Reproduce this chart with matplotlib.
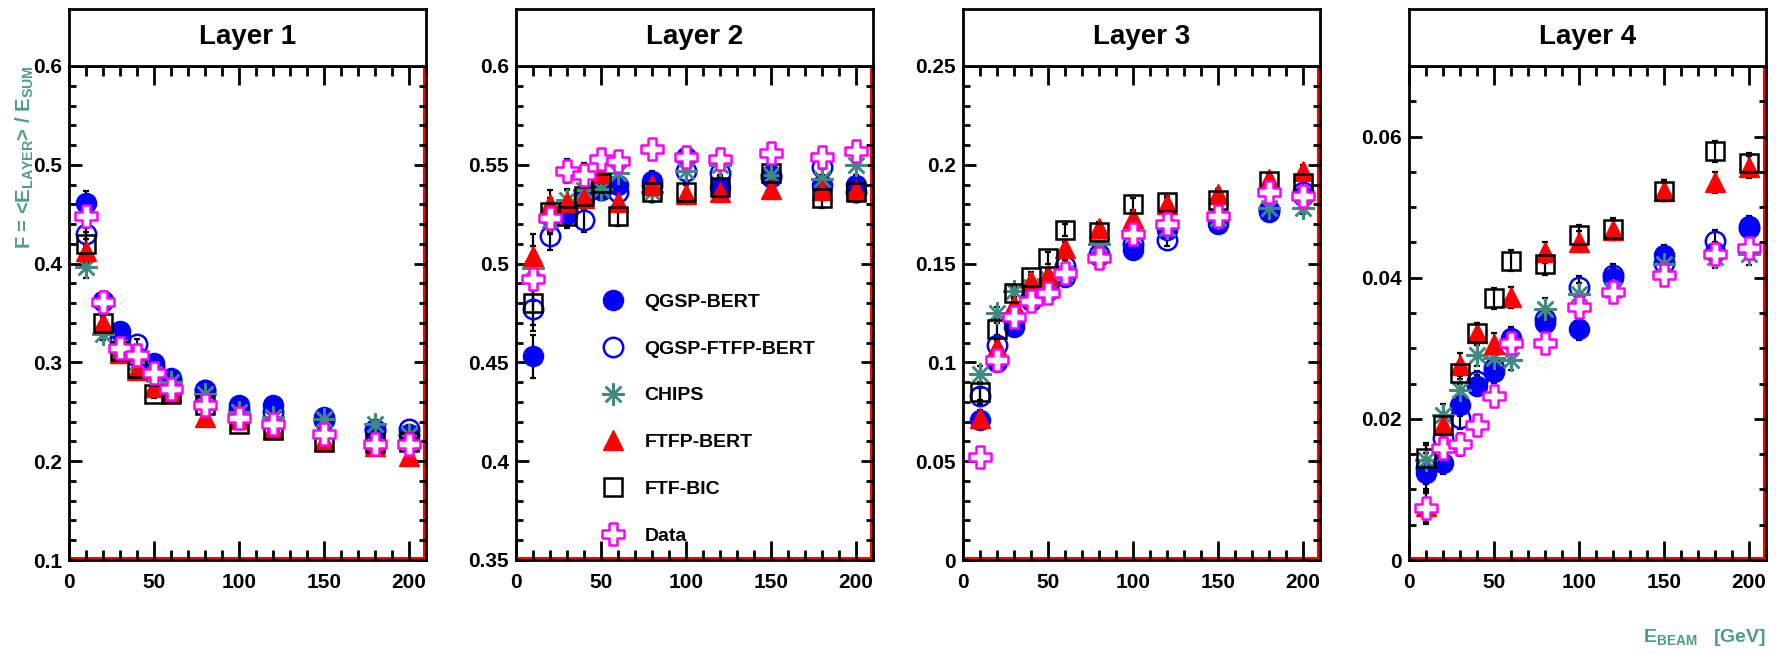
import matplotlib
matplotlib.use('Agg')
import matplotlib.pyplot as plt
from matplotlib.ticker import MultipleLocator

plt.rcParams['font.family'] = ['Liberation Sans', 'DejaVu Sans']
plt.rcParams['font.weight'] = 'bold'
plt.rcParams['mathtext.fontset'] = 'custom'
plt.rcParams['mathtext.rm'] = 'Liberation Sans:bold'
plt.rcParams['mathtext.default'] = 'rm'

# beam energies [GeV]
energy = [10, 20, 30, 40, 50, 60, 80, 100, 120, 150, 180, 200]

models = ['QGSP-BERT', 'QGSP-FTFP-BERT', 'CHIPS', 'FTFP-BERT', 'FTF-BIC', 'Data']

# layer 1
l1_qgsp_bert = [0.461, 0.362, 0.332, 0.305, 0.299, 0.284, 0.272, 0.257, 0.257, 0.245, 0.233, 0.228]
l1_qgsp_ftfp = [0.430, 0.362, 0.325, 0.319, 0.295, 0.282, 0.272, 0.253, 0.250, 0.242, 0.232, 0.233]
l1_chips     = [0.397, 0.329, 0.315, 0.300, 0.288, 0.280, 0.268, 0.250, 0.245, 0.243, 0.238, 0.227]
l1_ftfp_bert = [0.413, 0.340, 0.310, 0.292, 0.275, 0.270, 0.245, 0.243, 0.233, 0.220, 0.215, 0.205]
l1_ftf_bic   = [0.420, 0.340, 0.312, 0.294, 0.268, 0.268, 0.257, 0.238, 0.232, 0.219, 0.218, 0.219]
l1_data      = [0.448, 0.361, 0.315, 0.307, 0.289, 0.273, 0.257, 0.244, 0.238, 0.228, 0.217, 0.217]
l1_err       = [0.012, 0.006, 0.005, 0.005, 0.004, 0.004, 0.004, 0.004, 0.004, 0.004, 0.004, 0.004]

# layer 2
l2_qgsp_bert = [0.453, 0.524, 0.525, 0.533, 0.538, 0.540, 0.542, 0.554, 0.539, 0.545, 0.540, 0.540]
l2_qgsp_ftfp = [0.477, 0.514, 0.527, 0.522, 0.537, 0.536, 0.540, 0.547, 0.546, 0.544, 0.549, 0.536]
l2_chips     = [0.498, 0.522, 0.532, 0.537, 0.538, 0.546, 0.536, 0.547, 0.550, 0.545, 0.543, 0.550]
l2_ftfp_bert = [0.504, 0.530, 0.531, 0.533, 0.546, 0.531, 0.540, 0.535, 0.536, 0.538, 0.537, 0.537]
l2_ftf_bic   = [0.480, 0.526, 0.524, 0.534, 0.541, 0.524, 0.536, 0.536, 0.539, 0.546, 0.533, 0.536]
l2_data      = [0.492, 0.523, 0.547, 0.545, 0.553, 0.552, 0.558, 0.554, 0.553, 0.556, 0.554, 0.557]
l2_err       = [0.011, 0.007, 0.006, 0.006, 0.005, 0.005, 0.005, 0.005, 0.005, 0.005, 0.005, 0.005]

# layer 3
l3_qgsp_bert = [0.071, 0.100, 0.118, 0.131, 0.136, 0.143, 0.154, 0.157, 0.167, 0.170, 0.176, 0.184]
l3_qgsp_ftfp = [0.083, 0.109, 0.121, 0.133, 0.138, 0.149, 0.155, 0.160, 0.162, 0.172, 0.177, 0.186]
l3_chips     = [0.094, 0.125, 0.136, 0.138, 0.142, 0.145, 0.160, 0.166, 0.168, 0.173, 0.178, 0.178]
l3_ftfp_bert = [0.072, 0.108, 0.129, 0.141, 0.144, 0.158, 0.168, 0.173, 0.180, 0.185, 0.193, 0.197]
l3_ftf_bic   = [0.085, 0.117, 0.135, 0.143, 0.153, 0.167, 0.166, 0.180, 0.181, 0.182, 0.192, 0.191]
l3_data      = [0.052, 0.101, 0.123, 0.131, 0.135, 0.145, 0.153, 0.165, 0.170, 0.174, 0.186, 0.184]
l3_err       = [0.004, 0.003, 0.003, 0.003, 0.003, 0.003, 0.003, 0.003, 0.003, 0.003, 0.003, 0.003]

# layer 4
l4_qgsp_bert = [0.0123, 0.0138, 0.0220, 0.0247, 0.0266, 0.0315, 0.0336, 0.0327, 0.0399, 0.0432, 0.0436, 0.0473]
l4_qgsp_ftfp = [0.0130, 0.0173, 0.0201, 0.0253, 0.0272, 0.0312, 0.0342, 0.0387, 0.0404, 0.0421, 0.0452, 0.0470]
l4_chips     = [0.0141, 0.0205, 0.0241, 0.0290, 0.0286, 0.0284, 0.0356, 0.0377, 0.0383, 0.0419, 0.0429, 0.0433]
l4_ftfp_bert = [0.0076, 0.0191, 0.0277, 0.0321, 0.0306, 0.0372, 0.0436, 0.0451, 0.0468, 0.0523, 0.0535, 0.0557]
l4_ftf_bic   = [0.0144, 0.0192, 0.0265, 0.0321, 0.0371, 0.0424, 0.0419, 0.0460, 0.0469, 0.0523, 0.0579, 0.0562]
l4_data      = [0.0073, 0.0158, 0.0164, 0.0191, 0.0232, 0.0308, 0.0308, 0.0358, 0.0380, 0.0404, 0.0433, 0.0442]
l4_err       = [0.0022, 0.0016, 0.0016, 0.0015, 0.0015, 0.0015, 0.0015, 0.0015, 0.0015, 0.0015, 0.0015, 0.0015]

layers = [
    ('Layer 1', [l1_qgsp_bert, l1_qgsp_ftfp, l1_chips, l1_ftfp_bert, l1_ftf_bic, l1_data], l1_err,
     (0.1, 0.6), 0.1, 0.02),
    ('Layer 2', [l2_qgsp_bert, l2_qgsp_ftfp, l2_chips, l2_ftfp_bert, l2_ftf_bic, l2_data], l2_err,
     (0.35, 0.6), 0.05, 0.01),
    ('Layer 3', [l3_qgsp_bert, l3_qgsp_ftfp, l3_chips, l3_ftfp_bert, l3_ftf_bic, l3_data], l3_err,
     (0.0, 0.25), 0.05, 0.01),
    ('Layer 4', [l4_qgsp_bert, l4_qgsp_ftfp, l4_chips, l4_ftfp_bert, l4_ftf_bic, l4_data], l4_err,
     (0.0, 0.07), 0.02, 0.005),
]

# open cross marker like ROOT's
a, w = 0.5, 0.17
open_cross = [(-w, a), (w, a), (w, w), (a, w), (a, -w), (w, -w), (w, -a), (-w, -a),
              (-w, -w), (-a, -w), (-a, w), (-w, w), (-w, a)]

teal = '#4f9a8e'
styles = [
    dict(marker='o', mfc='#0000ff', mec='#0000ff', ms=14, mew=1.5),
    dict(marker='o', mfc='none', mec='#0000ff', ms=14, mew=1.8),
    dict(marker=(8, 2, 0), mfc='none', mec='#3f8a80', ms=16, mew=1.8),
    dict(marker='^', mfc='#ff0000', mec='#ff0000', ms=14, mew=1.0),
    dict(marker='s', mfc='none', mec='black', ms=13, mew=1.8),
    dict(marker=open_cross, mfc='white', mec='#ff00ff', ms=16, mew=1.8),
]

fig = plt.figure(figsize=(17.76, 6.53), dpi=100)
W, H = 1776.0, 653.0
lefts = [69, 516, 963, 1409]
pw = 357
top, bot, htop = 66, 560, 9

axes = []
for i, (title, series, err, ylim, major, minor) in enumerate(layers):
    ax = fig.add_axes([lefts[i] / W, 1 - bot / H, pw / W, (bot - top) / H])
    hax = fig.add_axes([lefts[i] / W, 1 - top / H, pw / W, (top - htop) / H])
    hax.set_xticks([])
    hax.set_yticks([])
    for s in hax.spines.values():
        s.set_linewidth(2)
    hax.text(0.5, 0.5, title, ha='center', va='center', fontsize=20, fontweight='bold',
             transform=hax.transAxes)

    for name, vals, st in zip(models, series, styles):
        ax.errorbar(energy, vals, yerr=err, fmt='none', ecolor='black', elinewidth=1.6,
                    capsize=2.5, capthick=1.6, zorder=2)
        ax.plot(energy, vals, linestyle='none', label=name, zorder=3, **st)

    ax.set_xlim(0, 210)
    ax.set_ylim(*ylim)
    ax.xaxis.set_major_locator(MultipleLocator(50))
    ax.xaxis.set_minor_locator(MultipleLocator(10))
    ax.yaxis.set_major_locator(MultipleLocator(major))
    ax.yaxis.set_minor_locator(MultipleLocator(minor))
    ax.yaxis.set_major_formatter(plt.FuncFormatter(lambda v, p: '%g' % round(v, 4)))
    ax.tick_params(which='both', direction='in', top=True, right=True, width=2,
                   labelsize=15)
    ax.tick_params(axis='x', which='major', length=14, pad=9)
    ax.tick_params(axis='x', which='minor', length=7)
    ax.tick_params(axis='y', which='major', length=9, pad=5)
    ax.tick_params(axis='y', which='minor', length=5)
    for lab in ax.get_xticklabels() + ax.get_yticklabels():
        lab.set_fontweight('bold')
    for s in ax.spines.values():
        s.set_linewidth(2)
    # red inner lines on right and bottom edges
    ax.plot([0.994, 0.994], [0, 1], transform=ax.transAxes, color='red', lw=1.5, zorder=1)
    ax.plot([0, 1], [0.004, 0.004], transform=ax.transAxes, color='red', lw=1.5, zorder=1)
    axes.append(ax)

axes[1].legend(loc='upper left', bbox_to_anchor=(0.218, 0.54), frameon=False,
               labelspacing=1.5, handlelength=2.0, handletextpad=0.6,
               borderpad=0, borderaxespad=0,
               prop={'weight': 'bold', 'size': 14}, numpoints=1)

fig.text(0.014, 1 - 66 / H, r'F = <E$_{LAYER}$> / E$_{SUM}$', rotation=90, ha='center',
         va='top', color=teal, fontsize=14.5, fontweight='bold')
fig.text(1766 / W, 1 - 637 / H, r'E$_{BEAM}$   [GeV]', ha='right', va='center',
         color=teal, fontsize=14, fontweight='bold')

fig.savefig('out.png', dpi=100)
